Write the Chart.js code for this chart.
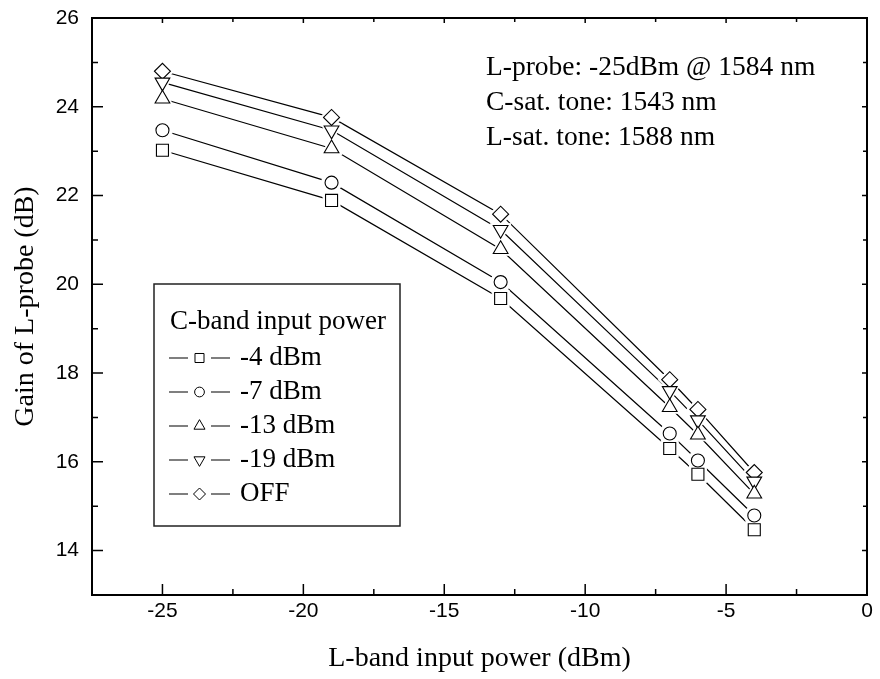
<!DOCTYPE html>
<html>
<head>
<meta charset="utf-8">
<script src="https://cdn.jsdelivr.net/npm/chart.js@4.4.0/dist/chart.umd.min.js"></script>
<style>
  html, body { margin: 0; padding: 0; background: #fff; }
  #wrap { width: 880px; height: 679px; position: relative; }
</style>
</head>
<body>
<div id="wrap"><canvas id="gainChart"></canvas></div>
<script>
// data
const lbandPower = [-25, -19, -13, -7, -6, -4];
const seriesNames = ["-4 dBm", "-7 dBm", "-13 dBm", "-19 dBm", "OFF"];
const gainC4 = [23.02, 21.89, 19.68, 16.30, 15.72, 14.47];
const gainC7 = [23.47, 22.29, 20.05, 16.64, 16.03, 14.79];
const gainC13 = [24.18, 23.06, 20.79, 17.23, 16.61, 15.28];
const gainC19 = [24.55, 23.47, 21.23, 17.60, 16.94, 15.56];
const gainOff = [24.80, 23.76, 21.58, 17.85, 17.18, 15.76];
const xTickValues = [-25, -20, -15, -10, -5, 0];
const xMinorValues = [-22.5, -17.5, -12.5, -7.5, -2.5];
const yTickValues = [14, 16, 18, 20, 22, 24, 26];
const yMinorValues = [15, 17, 19, 21, 23, 25];
const legendTitle = "C-band input power";
const noteLines = ["L-probe: -25dBm @ 1584 nm", "C-sat. tone: 1543 nm", "L-sat. tone: 1588 nm"];

const allGains = [gainC4, gainC7, gainC13, gainC19, gainOff];

// marker look per series
const markerStyle = ["rect", "circle", "triangle", "triangle", "rectRot"];
const markerRotation = [0, 0, 0, 180, 0];
const markerRadius = [8.5, 6.5, 8.5, 8.5, 8];

const SERIF = '"Liberation Serif", "Times New Roman", serif';
const SANS = '"Liberation Sans", Arial, sans-serif';

const datasets = [];
allGains.forEach((g, i) => {
  const pts = lbandPower.map((x, k) => ({ x: x, y: g[k] }));
  // the line itself
  datasets.push({
    label: seriesNames[i], data: pts, borderColor: "#000", borderWidth: 1.2,
    pointRadius: 0, fill: false, tension: 0, order: 3
  });
  // white halo so lines stop short of markers
  datasets.push({
    label: "", data: pts, showLine: false, pointStyle: markerStyle[i],
    pointRotation: markerRotation[i], pointRadius: markerRadius[i] + 3.5,
    pointBackgroundColor: "#fff", pointBorderColor: "#fff", pointBorderWidth: 1, order: 2
  });
  // open markers
  datasets.push({
    label: seriesNames[i], data: pts, showLine: false, pointStyle: markerStyle[i],
    pointRotation: markerRotation[i], pointRadius: markerRadius[i],
    pointBackgroundColor: "#fff", pointBorderColor: "#000", pointBorderWidth: 1.1, order: 1,
    isMarker: true
  });
});

const framePlugin = {
  id: "frame",
  afterDraw(chart) {
    const { ctx, chartArea: a, scales } = chart;
    const x = scales.x, y = scales.y;
    ctx.save();
    ctx.strokeStyle = "#000";
    ctx.lineWidth = 2;
    ctx.strokeRect(a.left, a.top, a.right - a.left, a.bottom - a.top);

    // inward tick marks
    ctx.lineWidth = 1.5;
    ctx.beginPath();
    x.ticks.forEach(t => {
      const px = x.getPixelForValue(t.value);
      ctx.moveTo(px, a.bottom); ctx.lineTo(px, a.bottom - 11);
      ctx.moveTo(px, a.top); ctx.lineTo(px, a.top + 5);
    });
    xMinorValues.forEach(v => {
      const px = x.getPixelForValue(v);
      ctx.moveTo(px, a.bottom); ctx.lineTo(px, a.bottom - 6);
      ctx.moveTo(px, a.top); ctx.lineTo(px, a.top + 4);
    });
    y.ticks.forEach(t => {
      const py = y.getPixelForValue(t.value);
      ctx.moveTo(a.left, py); ctx.lineTo(a.left + 11, py);
      ctx.moveTo(a.right, py); ctx.lineTo(a.right - 5, py);
    });
    yMinorValues.forEach(v => {
      const py = y.getPixelForValue(v);
      ctx.moveTo(a.left, py); ctx.lineTo(a.left + 6, py);
      ctx.moveTo(a.right, py); ctx.lineTo(a.right - 4, py);
    });
    ctx.stroke();

    // notes top right
    ctx.fillStyle = "#000";
    ctx.font = "27.5px " + SERIF;
    ctx.textAlign = "left";
    ctx.textBaseline = "middle";
    noteLines.forEach((s, i) => ctx.fillText(s, 486, 68 + i * 35));

    // legend box
    ctx.font = "27px " + SERIF;
    ctx.lineWidth = 1.5;
    ctx.strokeStyle = "#222";
    ctx.strokeRect(154, 284, 246, 242);
    ctx.fillText(legendTitle, 170, 322);
    const markers = chart.data.datasets.filter(d => d.isMarker);
    markers.forEach((d, i) => {
      const ly = 358 + i * 34;
      ctx.strokeStyle = "#000";
      ctx.lineWidth = 1.2;
      ctx.beginPath();
      ctx.moveTo(169, ly); ctx.lineTo(188, ly);
      ctx.moveTo(211, ly); ctx.lineTo(230, ly);
      ctx.stroke();
      ctx.fillStyle = "#fff";
      ctx.lineWidth = 1;
      Chart.helpers.drawPoint(ctx, {
        pointStyle: d.pointStyle, rotation: d.pointRotation,
        radius: d.pointRadius * 0.75, borderWidth: 1
      }, 199.5, ly);
      ctx.fillStyle = "#000";
      ctx.fillText(d.label, 240, ly);
    });
    ctx.restore();
  }
};

new Chart(document.getElementById("gainChart"), {
  type: "line",
  data: { datasets: datasets },
  plugins: [framePlugin],
  options: {
    responsive: true,
    maintainAspectRatio: false,
    animation: false,
    events: [],
    layout: { padding: { top: 18, right: 8, left: 0, bottom: 0 } },
    plugins: { legend: { display: false }, tooltip: { enabled: false } },
    scales: {
      x: {
        type: "linear", min: -27.5, max: 0,
        grid: { display: false, drawTicks: false },
        border: { display: false },
        ticks: {
          color: "#000", font: { family: SANS, size: 21 }, padding: 4,
          maxRotation: 0, autoSkip: false, callback: v => String(v)
        },
        title: {
          display: true, text: "L-band input power (dBm)", color: "#000",
          font: { family: SERIF, size: 28 }, padding: { top: 0, bottom: 4 }
        },
        afterBuildTicks: s => { s.ticks = xTickValues.map(v => ({ value: v })); },
        afterFit: s => { s.height = 84; s.paddingLeft = 0; s.paddingRight = 0; }
      },
      y: {
        type: "linear", min: 13, max: 26,
        grid: { display: false, drawTicks: false },
        border: { display: false },
        ticks: {
          color: "#000", font: { family: SANS, size: 21 }, padding: 13,
          autoSkip: false, callback: v => String(v)
        },
        title: {
          display: true, text: "Gain of L-probe (dB)", color: "#000",
          font: { family: SERIF, size: 28 }, padding: { top: 9, bottom: 0 }
        },
        afterBuildTicks: s => { s.ticks = yTickValues.map(v => ({ value: v })); },
        afterFit: s => { s.width = 92; s.paddingTop = 0; s.paddingBottom = 0; }
      }
    }
  }
});
</script>
</body>
</html>
